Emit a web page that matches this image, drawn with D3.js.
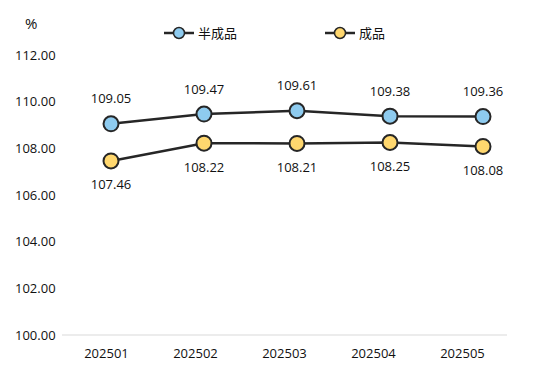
<!DOCTYPE html>
<html>
<head>
<meta charset="utf-8">
<script src="https://cdn.jsdelivr.net/npm/d3@7"></script>
<style>
  body { margin: 0; background: #fff; }
  text { font-family: "Open Sans", "Noto Sans CJK SC", sans-serif; fill: #111; }
</style>
</head>
<body>
<svg id="chart" width="546" height="374"></svg>
<script>
// data
var months = ["202501", "202502", "202503", "202504", "202505"];
var semiFinished = [109.05, 109.47, 109.61, 109.38, 109.36];   // 半成品
var finished = [107.46, 108.22, 108.21, 108.25, 108.08];       // 成品
var yTicks = [100, 102, 104, 106, 108, 110, 112];
var seriesNames = ["半成品", "成品"];
var seriesColors = ["#8ecbef", "#ffd76e"];

var svg = d3.select("#chart");

// axis labels sit on a band scale, the markers on a slightly wider point scale (as in the original)
var xAxisScale = d3.scaleBand().domain(months).range([62, 507]);
var x = d3.scalePoint().domain(months).range([111, 483]);
var y = d3.scaleLinear().domain([100, 112]).range([335, 55]);

// baseline
svg.append("line")
    .attr("x1", 62).attr("x2", 507)
    .attr("y1", y(100)).attr("y2", y(100))
    .style("stroke", "#d9d9d9").style("stroke-width", 1);

// y tick labels
svg.selectAll(".ytick").data(yTicks).enter().append("text")
    .attr("class", "ytick")
    .attr("x", 15)
    .attr("y", function (d) { return y(d); })
    .attr("dy", "0.35em")
    .style("font-size", "13px")
    .text(function (d) { return d3.format(".2f")(d); });

svg.append("text").attr("x", 25).attr("y", 24).attr("dy", "0.35em")
    .style("font-size", "15px").text("%");

// x labels
svg.selectAll(".xtick").data(months).enter().append("text")
    .attr("class", "xtick")
    .attr("x", function (d) { return xAxisScale(d) + xAxisScale.bandwidth() / 2; })
    .attr("y", 353)
    .attr("dy", "0.35em")
    .attr("text-anchor", "middle")
    .style("font-size", "13px")
    .text(function (d) { return d; });

var line = d3.line()
    .x(function (d, i) { return x(months[i]); })
    .y(function (d) { return y(d); });

function drawSeries(values, color, labelOffset) {
    svg.append("path")
        .datum(values)
        .attr("d", line)
        .style("fill", "none")
        .style("stroke", "#262626")
        .style("stroke-width", 2.5);

    svg.selectAll(null).data(values).enter().append("circle")
        .attr("cx", function (d, i) { return x(months[i]); })
        .attr("cy", function (d) { return y(d); })
        .attr("r", 7.5)
        .style("fill", color)
        .style("stroke", "#262626")
        .style("stroke-width", 2);

    svg.selectAll(null).data(values).enter().append("text")
        .attr("x", function (d, i) { return x(months[i]); })
        .attr("y", function (d) { return y(d) + labelOffset; })
        .attr("dy", "0.35em")
        .attr("text-anchor", "middle")
        .style("font-size", "13px")
        .text(function (d) { return d3.format(".2f")(d); });
}

drawSeries(semiFinished, seriesColors[0], -25);
drawSeries(finished, seriesColors[1], 24);

// legend
var legendX = [164, 325];
seriesNames.forEach(function (name, i) {
    var g = svg.append("g").attr("transform", "translate(" + legendX[i] + ",33)");
    g.append("line").attr("x1", 0).attr("x2", 30).attr("y1", 0).attr("y2", 0)
        .style("stroke", "#262626").style("stroke-width", 2.5);
    g.append("circle").attr("cx", 15).attr("cy", 0).attr("r", 5.5)
        .style("fill", seriesColors[i]).style("stroke", "#262626").style("stroke-width", 1.5);
    g.append("text").attr("x", 34).attr("y", 0).attr("dy", "0.35em")
        .style("font-size", "13px").text(name);
});
</script>
</body>
</html>
